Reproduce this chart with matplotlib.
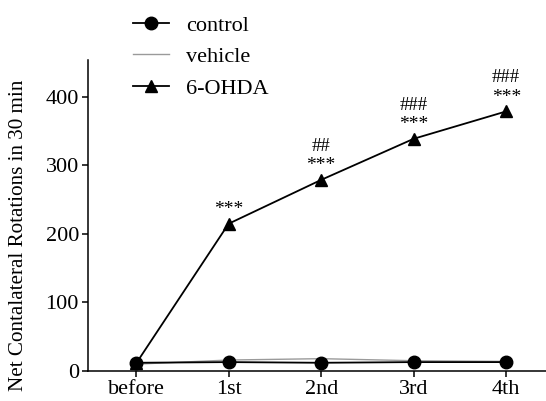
import matplotlib
matplotlib.use("Agg")
import matplotlib.pyplot as plt

# Data.
SESSIONS = ["before", "1st", "2nd", "3rd", "4th"]
CONTROL = [12, 13, 12, 13, 13]
VEHICLE = [10, 16, 18, 15, 14]
OHDA = [11, 215, 279, 339, 379]

# Significance marks over the 6-OHDA points.
STARS = ["", "***", "***", "***", "***"]
HASHES = ["", "", "##", "###", "###"]


def InitializeMatplotLib():
    matplotlib.rc("font", family="Liberation Serif", size=16)
    matplotlib.rc("axes", linewidth=1.1)
    matplotlib.rc("xtick.major", size=4.5, width=1.1)
    matplotlib.rc("ytick.major", size=4.5, width=1.1)


def PlotRotations():
    fig = plt.figure(figsize=(5.46, 4.01), dpi=100)
    ax = fig.add_axes([88 / 546, 30 / 401, 1 - 88 / 546, 311 / 401])

    x = list(range(len(SESSIONS)))
    ax.plot(x, OHDA, color="black", lw=1.3, marker="^", ms=9, label="6-OHDA", zorder=3)
    ax.plot(x, VEHICLE, color="#9a9a9a", lw=1.0, label="vehicle", zorder=2)
    ax.plot(x, CONTROL, color="black", lw=1.3, marker="o", ms=9, label="control", zorder=4)

    for xi, y, s, h in zip(x, OHDA, STARS, HASHES):
        if s:
            ax.annotate(s, (xi, y), xytext=(0, 4), textcoords="offset points",
                        ha="center", va="bottom", fontsize=14)
        if h:
            ax.annotate(h, (xi, y), xytext=(0, 18), textcoords="offset points",
                        ha="center", va="bottom", fontsize=13.5)

    ax.set_xlim(-0.52, 4.43)
    ax.set_ylim(0, 454)
    ax.set_xticks(x)
    ax.set_xticklabels(SESSIONS)
    ax.set_yticks([0, 100, 200, 300, 400])
    ax.set_ylabel("Net Contalateral Rotations in 30 min", fontsize=15.2)
    ax.yaxis.set_label_coords(-0.132, 0.435)
    ax.spines["top"].set_visible(False)
    ax.spines["right"].set_visible(False)
    ax.tick_params(direction="out", pad=2)

    handles, labels = ax.get_legend_handles_labels()
    order = [2, 1, 0]
    fig.legend([handles[i] for i in order], [labels[i] for i in order],
               loc="upper left", bbox_to_anchor=(133 / 546, 1 - 15 / 401),
               frameon=False, borderpad=0, borderaxespad=0,
               handlelength=1.6, handletextpad=0.8, labelspacing=0.5)

    fig.savefig("out.png", dpi=100)


if __name__ == "__main__":
    InitializeMatplotLib()
    PlotRotations()
